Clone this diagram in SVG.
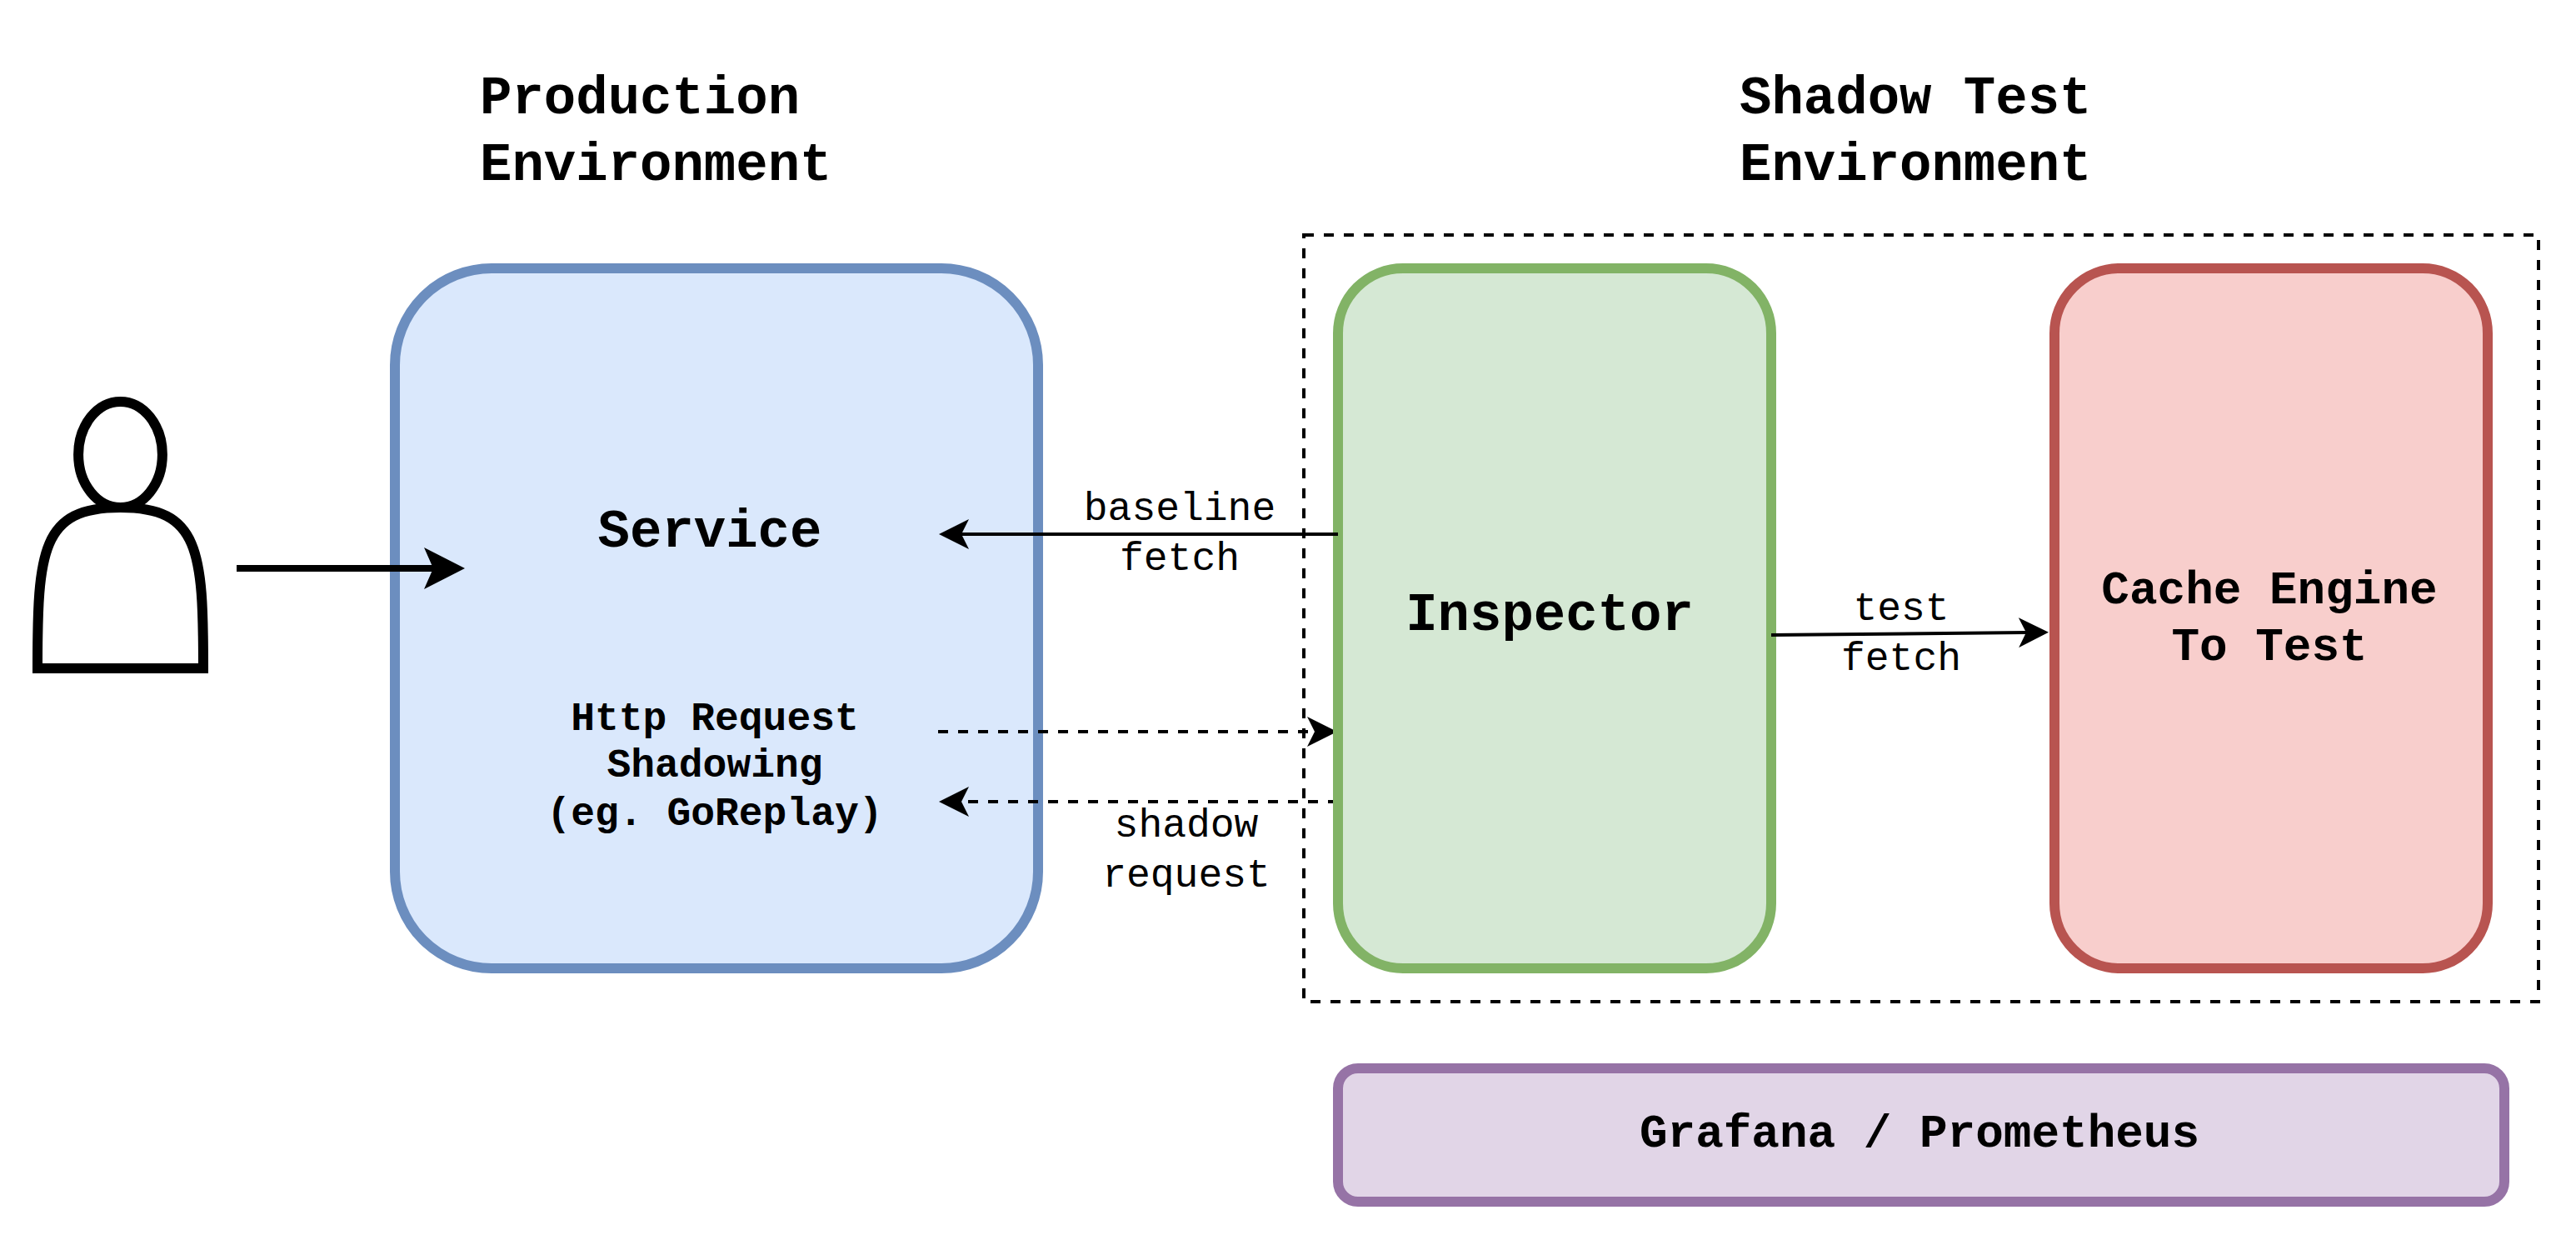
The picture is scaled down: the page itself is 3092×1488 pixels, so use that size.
<svg xmlns="http://www.w3.org/2000/svg" width="3092" height="1488" viewBox="0 0 3092 1488">
<style>
text{font-family:"Liberation Mono",monospace;fill:#000}
.b{font-weight:700}
.t{font-size:64px}
.m{font-size:56px}
.s{font-size:48px}
.c{text-anchor:middle}
.box{stroke-width:12}
.flow{stroke:#000;stroke-width:4;fill:none}
.dash{stroke-dasharray:12 12}
.person{fill:#fff;stroke:#000;stroke-width:12}
</style>
<defs>
<marker id="ah" markerUnits="userSpaceOnUse" markerWidth="36" markerHeight="36" refX="9" refY="18" orient="auto"><path d="M0 0L36 18L0 36L9 18Z" fill="#000"/></marker>
<marker id="ac" markerUnits="userSpaceOnUse" markerWidth="36" markerHeight="36" refX="9" refY="18" orient="auto"><path d="M0 0L31 15.500V20.500L0 36L9 18Z" fill="#000"/></marker>
<marker id="ab" markerUnits="userSpaceOnUse" markerWidth="50" markerHeight="50" refX="11" refY="25" orient="auto"><path d="M0 0L49 25L0 50L11 25Z" fill="#000"/></marker>
</defs>
<rect width="3092" height="1488" fill="#fff"/>
<g id="titles">
<text class="b t" x="576" y="136">Production</text><text class="b t" x="576" y="216">Environment</text>
<text class="b t" x="2088" y="136">Shadow Test</text><text class="b t" x="2088" y="216">Environment</text>
</g>
<g id="shadow-env"><rect x="1565" y="282" width="1482" height="920" fill="none" stroke="#000" stroke-width="4" stroke-dasharray="12 12"/></g>
<g id="service">
<rect class="box" x="474" y="322" width="772" height="840" rx="116" fill="#dae8fc" stroke="#6c8ebf"/>
<text class="b t c" x="852" y="656">Service</text>
<text class="b s c" x="858" y="876">Http Request</text><text class="b s c" x="858" y="932">Shadowing</text><text class="b s c" x="858" y="990">(eg. GoReplay)</text>
</g>
<g id="inspector">
<rect class="box" x="1606" y="322" width="520" height="840" rx="78" fill="#d5e8d4" stroke="#82b366"/>
<text class="b t c" x="1860" y="756">Inspector</text>
</g>
<g id="cache">
<rect class="box" x="2466" y="322" width="520" height="840" rx="78" fill="#f8cecc" stroke="#b85450"/>
<text class="b m c" x="2724" y="724">Cache Engine</text><text class="b m c" x="2724" y="792">To Test</text>
</g>
<g id="grafana">
<rect class="box" x="1606" y="1282" width="1400" height="160" rx="24" fill="#e1d5e7" stroke="#9673a6"/>
<text class="b m c" x="2304" y="1376">Grafana / Prometheus</text>
</g>
<g id="user">
<path class="person" d="M45 802C45 660 50 609 144.500 609C239 609 244 660 244 802Z"/>
<ellipse class="person" cx="144.500" cy="545.500" rx="50.400" ry="63.500"/>
</g>
<g id="connectors">
<path d="M284 682H520" fill="none" stroke="#000" stroke-width="8" marker-end="url(#ab)"/>
<path class="flow" d="M1606 641H1154" marker-end="url(#ah)"/>
<path class="flow" d="M2126 762L2432 759" marker-end="url(#ah)"/>
<path class="flow dash" d="M1126 878H1578" marker-end="url(#ac)"/>
<path class="flow dash" stroke-dashoffset="6" d="M1600 962H1154" marker-end="url(#ah)"/>
</g>
<g id="labels">
<text class="s c" x="1416" y="624">baseline</text><text class="s c" x="1416" y="684">fetch</text>
<text class="s c" x="2282" y="744">test</text><text class="s c" x="2282" y="804">fetch</text>
<text class="s c" x="1424" y="1004">shadow</text><text class="s c" x="1424" y="1064">request</text>
</g>
</svg>
